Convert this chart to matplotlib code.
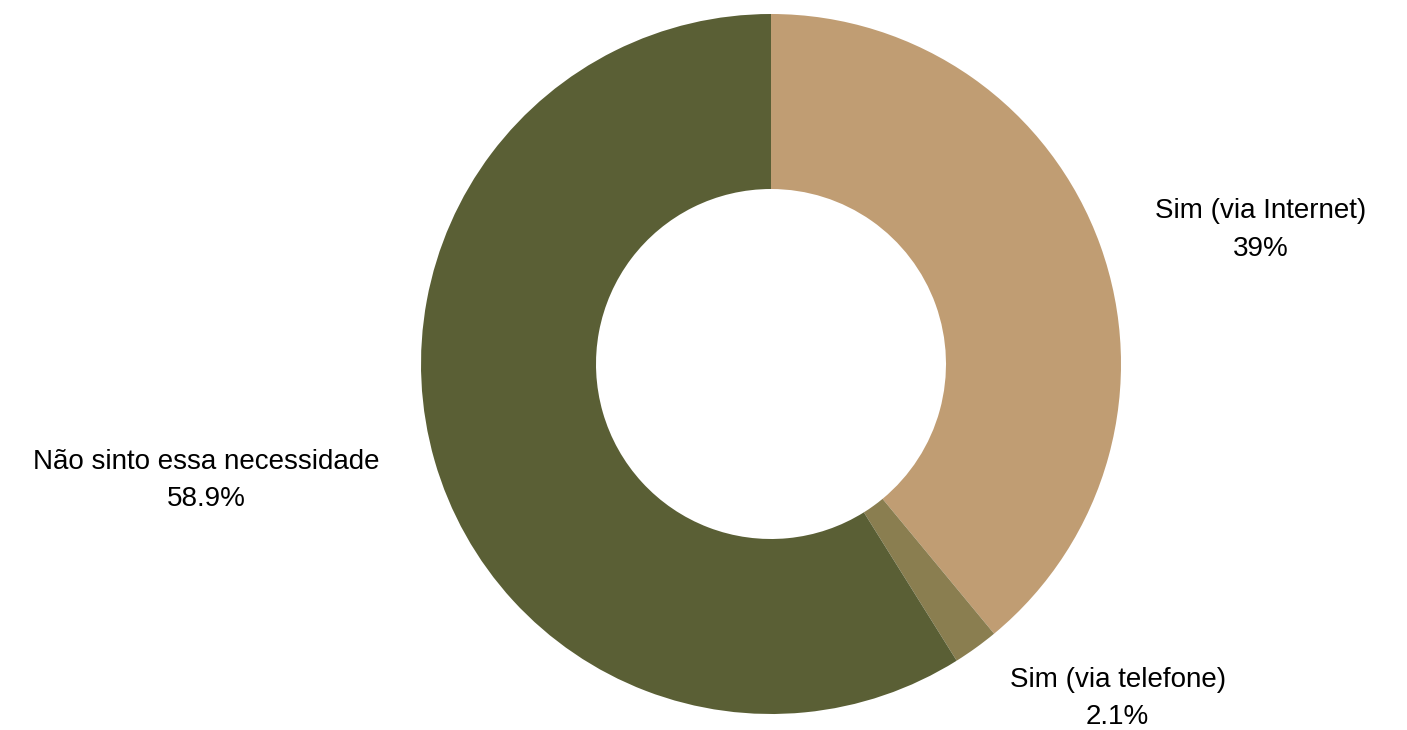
"""Donut chart: Sim (via Internet) / Sim (via telefone) / Não sinto essa necessidade."""

import matplotlib

matplotlib.use("Agg")
import matplotlib.pyplot as plt
from matplotlib.transforms import offset_copy

categories = ["Sim (via Internet)", "Sim (via telefone)", "Não sinto essa necessidade"]
shares = [39.0, 2.1, 58.9]
share_labels = ["39%", "2.1%", "58.9%"]
colors = ["#C09D73", "#8A7E50", "#5A5F35"]

plt.rcParams["font.family"] = ["Liberation Sans", "DejaVu Sans"]

fig = plt.figure(figsize=(14.07, 7.30), dpi=100)
ax = fig.add_axes([0, 0, 1, 1])

labels = [f"{c}\n{s}" for c, s in zip(categories, share_labels)]
wedges, texts = ax.pie(
    shares,
    labels=labels,
    colors=colors,
    startangle=90,
    counterclock=False,
    radius=1.0,
    labeldistance=1.165,
    wedgeprops=dict(width=0.5, linewidth=0),
    textprops=dict(fontsize=20, color="black", multialignment="center", linespacing=1.58),
)

# nudge labels down a few pixels
for t in texts:
    t.set_transform(offset_copy(t.get_transform(), fig=fig, y=-4, units="dots"))

# center at (771, 364) px, 350 px per unit
ax.set_xlim(-771 / 350, (1407 - 771) / 350)
ax.set_ylim(-366 / 350, 364 / 350)
ax.set_aspect("auto")
ax.axis("off")

fig.savefig("out.png", dpi=100)
